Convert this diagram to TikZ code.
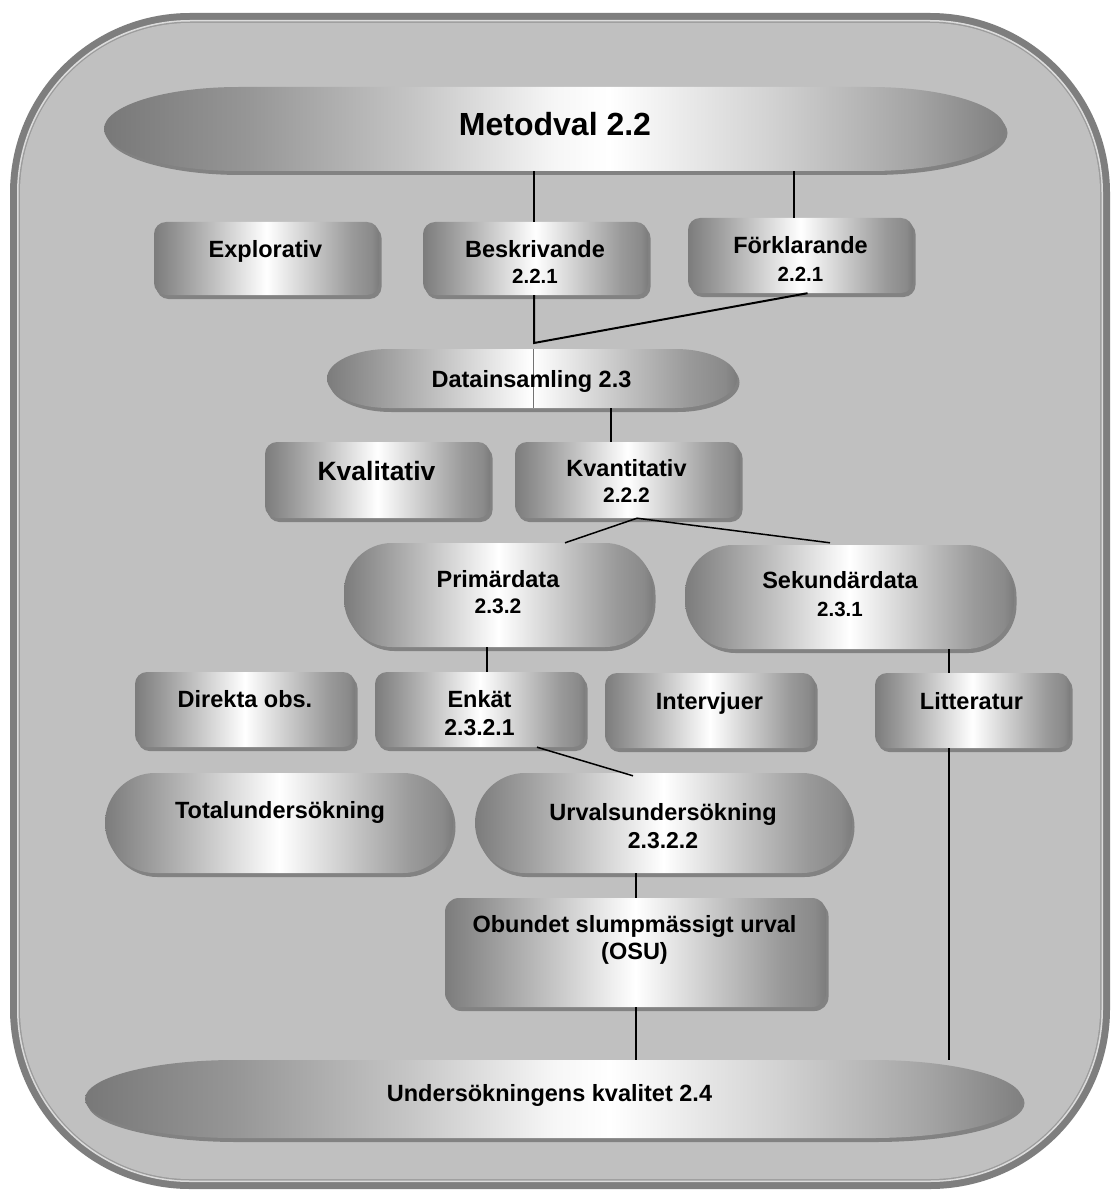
\documentclass[tikz,border=0pt]{standalone}
\usepackage{fontspec}
\setmainfont{Liberation Sans}
\usetikzlibrary{fit,calc}
\definecolor{bgc}{HTML}{C0C0C0}
\definecolor{framedark}{HTML}{7E7E7E}
\definecolor{framelight}{HTML}{DCDCDC}
\definecolor{framemid}{HTML}{9C9C9C}
\definecolor{shadowc}{HTML}{828282}
\definecolor{sdA}{HTML}{7C7C7C}
\definecolor{sdB}{HTML}{9A9A9A}
\definecolor{sdC}{HTML}{C4C4C4}
\definecolor{sdD}{HTML}{EFEFEF}
\definecolor{sdE}{HTML}{8A8A8A}
\definecolor{lgA}{HTML}{787878}
\definecolor{lgB}{HTML}{969696}
\definecolor{lgC}{HTML}{C4C4C4}
\definecolor{lgD}{HTML}{F6F6F6}
\definecolor{lgE}{HTML}{D2D2D2}
\definecolor{lgF}{HTML}{A4A4A4}
\definecolor{lgG}{HTML}{808080}
\pgfdeclarehorizontalshading{boxshade}{100bp}{color(0bp)=(sdA); color(25bp)=(sdA); color(31bp)=(sdB); color(39bp)=(sdC); color(47bp)=(sdD); color(50bp)=(white); color(53bp)=(sdD); color(61bp)=(sdC); color(69bp)=(sdB); color(73.5bp)=(sdE); color(75bp)=(sdA); color(100bp)=(sdA)}
\pgfdeclarehorizontalshading{longshade}{100bp}{color(0bp)=(lgA); color(25bp)=(lgA); color(33bp)=(lgB); color(42bp)=(lgC); color(50bp)=(lgD); color(53bp)=(white); color(62bp)=(lgE); color(70bp)=(lgF); color(75bp)=(lgG); color(100bp)=(lgG)}
\tikzset{
  lbl/.style={font=\bfseries\fontsize{23.5}{26.5}\selectfont, inner sep=0pt, align=center},
  conn/.style={line width=2pt, black},
  connthin/.style={line width=1.5pt, black},
}
\newcommand\RRshape[6]{%
  \fill[shadowc, rounded corners=#6] ([shift={(2.5,4)}]#2,#3) rectangle ([shift={(2.5,4)}]#4,#5);
  \shade[shading=boxshade, rounded corners=#6] (#2,#3) rectangle (#4,#5);
  \node[fit={(#2,#3) (#4,#5)}, inner sep=0pt] (#1) {};
}
\newcommand\ELshape[7]{%
  \pgfmathsetmacro\elry{(#5-#3)/2}%
  \begin{scope}[shift={(2.5,4)}]
    \fill[shadowc] ({#2+#6},#3) -- ({#4-#6},#3) arc[start angle=90,end angle=-90,x radius=#6pt,y radius=\elry pt] -- ({#2+#6},#5) arc[start angle=270,end angle=90,x radius=#6pt,y radius=\elry pt] -- cycle;
  \end{scope}
  \shade[shading=#7] ({#2+#6},#3) -- ({#4-#6},#3) arc[start angle=90,end angle=-90,x radius=#6pt,y radius=\elry pt] -- ({#2+#6},#5) arc[start angle=270,end angle=90,x radius=#6pt,y radius=\elry pt] -- cycle;
  \node[fit={(#2,#3) (#4,#5)}, inner sep=0pt] (#1) {};
}
\begin{document}
\begin{tikzpicture}[x=1pt,y=-1pt]
\useasboundingbox (0,0) rectangle (1111,1190);
\fill[white] (0,0) rectangle (1111,1190);
% outer frame
\fill[framedark, rounded corners=180pt] (10,13) rectangle (1110,1189);
\fill[framelight, rounded corners=173pt] (17,20) rectangle (1103,1182);
\fill[framemid, rounded corners=172pt] (18.5,21.5) rectangle (1101.5,1180.5);
\fill[bgc, rounded corners=170pt] (20,23) rectangle (1100,1179);

% shapes
\ELshape{metod}{104}{87}{1005}{171}{135}{longshade}
\RRshape{explo}{154}{222}{379}{295}{12pt}
\RRshape{besk}{423}{222}{648}{295}{12pt}
\RRshape{forkl}{688}{218}{913}{293}{12pt}
\ELshape{data}{327}{349}{737}{408}{62}{boxshade}
\RRshape{kvali}{265}{442}{490}{518}{12pt}
\RRshape{kvant}{515}{442}{740}{518}{12pt}
\RRshape{prim}{344}{543}{653}{647}{48pt}
\RRshape{sek}{685}{545}{1014}{649}{48pt}
\RRshape{direkt}{135}{672}{355}{747}{12pt}
\RRshape{enkat}{375}{672}{585}{747}{12pt}
\RRshape{interv}{605}{673}{815}{748}{12pt}
\RRshape{litt}{875}{673}{1070}{748}{12pt}
\RRshape{total}{105}{773}{453}{873}{50pt}
\RRshape{urval}{475}{773}{852}{873}{50pt}
\RRshape{osu}{445}{898}{826}{1007}{14pt}
\ELshape{und}{85}{1060}{1022}{1138}{150}{longshade}

% thin split line inside Datainsamling
\coordinate (dsplit) at (533,349);
\draw[line width=0.7pt, black!55] (dsplit) -- (dsplit |- data.south);

% texts
\node[lbl, anchor=base, font=\bfseries\fontsize{32}{36}\selectfont] (metod-t) at (555,136) {Metodval 2.2};
\node[lbl, anchor=base] (explo-t) at (265.5,257) {Explorativ};
\node[lbl] (besk-t) at (535,262) {Beskrivande\\[-1pt]{\fontsize{20.5}{24}\selectfont 2.2.1}};
\node[lbl] (forkl-t) at (800.5,259) {Förklarande\\[2pt]{\fontsize{20.5}{24}\selectfont 2.2.1}};
\node[lbl, anchor=base] (data-t) at (531.5,387) {Datainsamling 2.3};
\node[lbl, anchor=base, font=\bfseries\fontsize{26.5}{30}\selectfont] (kvali-t) at (376.5,480) {Kvalitativ};
\node[lbl] (kvant-t) at (626.5,481) {Kvantitativ\\[-1pt]{\fontsize{21}{24}\selectfont 2.2.2}};
\node[lbl] (prim-t) at (498,592) {Primärdata\\{\fontsize{21}{24}\selectfont 2.3.2}};
\node[lbl] (sek-t) at (840,594) {Sekundärdata\\[1pt]{\fontsize{20.5}{24}\selectfont 2.3.1}};
\node[lbl, anchor=base] (direkt-t) at (245,707) {Direkta obs.};
\node[lbl] (enkat-t) at (479.5,713) {Enkät\\[1pt]{\fontsize{23}{26}\selectfont 2.3.2.1}};
\node[lbl, anchor=base] (interv-t) at (709.5,709) {Intervjuer};
\node[lbl, anchor=base] (litt-t) at (971.5,709) {Litteratur};
\node[lbl, anchor=base] (total-t) at (280,818) {Totalundersökning};
\node[lbl] (urval-t) at (663,826) {Urvalsundersökning\\[2pt]{\fontsize{23}{26}\selectfont 2.3.2.2}};
\node[lbl] (osu-t) at (634.5,940) {Obundet slumpmässigt urval\\[1pt](OSU)};
\node[lbl, anchor=base] (und-t) at (549.5,1101) {Undersökningens kvalitet 2.4};

% connectors
\draw[conn] ([xshift=-1.5pt]besk.north |- metod.south) -- ([xshift=-1.5pt]besk.north);
\draw[conn] ([xshift=-6.5pt]forkl.north |- metod.south) -- ([xshift=-6.5pt]forkl.north);
\coordinate (bj) at ([xshift=-1.5pt]besk.south |- 0,343);
\draw[conn, line join=miter] ([xshift=-1.5pt]besk.south) -- (bj) -- ([xshift=7pt]forkl.south);
\draw[conn] ([xshift=-16.5pt]kvant.north |- data.south) -- ([xshift=-16.5pt]kvant.north);
\coordinate (kj) at ([xshift=9.5pt]kvant.south);
\draw[connthin] ([xshift=66.5pt]prim.north) -- (kj) -- ([xshift=-19.5pt,yshift=2pt]sek.north);
\draw[conn] ([xshift=7pt]enkat.north |- prim.south) -- ([xshift=7pt]enkat.north);
\draw[conn] ([xshift=-23.5pt]litt.north |- sek.south) -- ([xshift=-23.5pt]litt.north);
\draw[connthin] ([xshift=-23.5pt]litt.south) -- ([xshift=-23.5pt]litt.south |- und.north);
\draw[connthin] ([xshift=57pt]enkat.south) -- ([xshift=-30.5pt,yshift=-3pt]urval.north);
\draw[conn] (osu.north |- urval.south) -- (osu.north);
\draw[conn] (osu.south) -- (osu.south |- und.north);
\end{tikzpicture}
\end{document}
